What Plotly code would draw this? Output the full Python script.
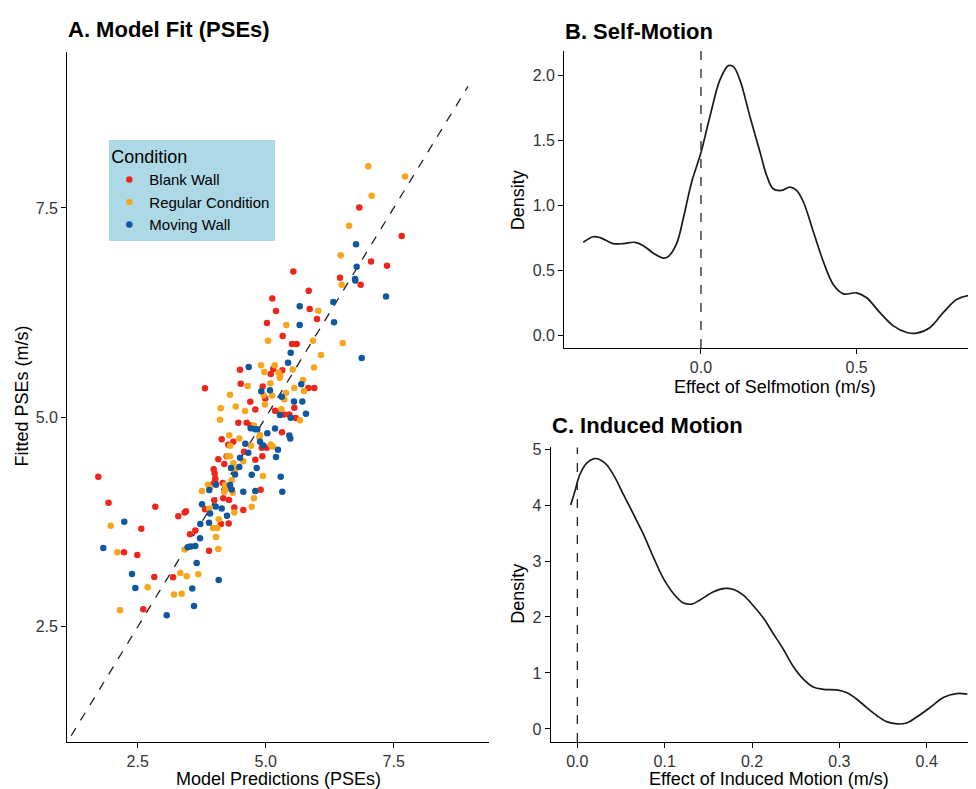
import plotly.graph_objects as go

# ---------------- Panel A data (Model predictions vs fitted PSEs) ----------------
blank_x = [1.73, 1.93, 2.844, 3.293, 3.418, 2.570, 3.521, 3.625, 2.232, 2.492, 3.893, 2.824, 3.189, 2.609,
           4.127, 4.277, 4.465, 4.629, 4.707, 5.318, 4.141, 4.367, 4.269, 4.922, 5.019, 4.576, 4.238, 4.074,
           4.934, 4.797, 4.191, 3.984, 4.004, 4.016, 4.010, 3.977, 4.160, 4.238, 4.902, 4.172, 4.283, 3.996,
           4.387, 4.562, 3.814, 3.443, 5.357, 5.461, 5.586, 5.182, 5.266, 5.559, 4.797, 4.699, 4.992, 5.832,
           5.949, 3.814, 4.941, 4.512, 5.098, 5.324, 5.148, 4.498, 5.514, 5.605, 5.332, 5.025, 6.002, 5.859,
           5.201, 5.129, 5.840, 6.855, 6.451, 5.539, 7.369, 7.057, 7.656, 6.828]
blank_y = [4.29, 3.98, 3.932, 3.821, 3.864, 3.672, 3.604, 3.651, 3.391, 3.356, 3.407, 3.095, 3.092, 2.709,
           3.726, 3.734, 4.937, 4.937, 4.902, 4.823, 4.740, 4.708, 4.672, 4.637, 4.637, 4.590, 4.535, 4.500,
           4.535, 4.495, 4.444, 4.381, 4.329, 4.270, 4.231, 4.207, 4.216, 4.160, 4.136, 4.034, 4.015, 4.010,
           3.924, 3.896, 3.903, 3.880, 5.035, 5.035, 4.992, 5.079, 5.067, 5.115, 5.095, 5.186, 5.225, 5.351,
           5.351, 5.347, 5.370, 5.402, 5.517, 5.564, 5.576, 5.568, 5.875, 5.875, 5.970, 6.127, 6.175, 6.293,
           6.269, 6.420, 6.511, 6.582, 6.668, 6.742, 6.810, 6.861, 7.165, 7.504]

regular_x = [1.973, 2.102, 3.418, 4.074, 3.971, 4.055, 4.029, 4.082, 4.387, 3.332, 3.457, 3.684, 2.695, 3.209,
             3.359, 2.154, 4.107, 4.771, 4.889, 4.875, 4.289, 4.484, 4.303, 5.098, 5.137, 4.713, 4.258, 4.303,
             4.562, 4.367, 4.400, 4.947, 4.336, 3.873, 3.912, 4.205, 4.205, 4.191, 4.355, 3.756, 4.771, 3.898,
             4.727, 5.670, 6.027, 5.402, 5.045, 5.924, 6.504, 6.080, 4.908, 5.176, 4.973, 5.254, 5.285, 5.527,
             5.943, 5.273, 4.648, 5.090, 5.728, 5.559, 5.748, 5.396, 4.303, 4.961, 5.123, 5.363, 4.414, 4.121,
             4.986, 4.596, 5.305, 7.004, 7.721, 7.070, 6.627, 6.465, 6.484]
regular_y = [3.707, 3.391, 3.423, 3.430, 3.679, 3.679, 3.572, 3.785, 3.864, 3.143, 3.104, 3.127, 2.974, 2.886,
             2.894, 2.697, 4.973, 4.902, 4.791, 4.763, 4.787, 4.748, 4.660, 4.677, 4.653, 4.660, 4.539, 4.535,
             4.476, 4.452, 4.377, 4.299, 4.251, 4.196, 4.164, 4.192, 4.133, 4.109, 4.101, 4.121, 4.034, 3.912,
             3.932, 4.965, 6.274, 6.104, 5.914, 5.914, 5.887, 5.745, 5.623, 5.623, 5.541, 5.536, 5.497, 5.571,
             5.595, 5.473, 5.375, 5.406, 5.446, 5.351, 5.316, 5.292, 5.269, 5.264, 5.260, 5.213, 5.130, 5.110,
             5.154, 5.075, 5.098, 7.996, 7.874, 7.646, 7.287, 6.936, 6.582]

moving_x = [2.238, 3.723, 3.717, 3.893, 3.912, 4.244, 1.828, 3.477, 3.535, 3.625, 3.652, 2.389, 4.082, 2.453,
            3.566, 3.600, 3.066, 5.279, 5.488, 5.787, 4.707, 4.791, 4.836, 5.031, 5.182, 5.461, 5.480, 4.602,
            4.889, 4.953, 5.240, 4.660, 4.498, 5.201, 4.484, 4.322, 4.824, 4.400, 4.727, 5.293, 4.029, 4.303,
            4.336, 4.562, 4.797, 5.324, 3.898, 3.756, 4.023, 4.141, 5.664, 6.334, 5.664, 5.488, 5.436, 4.668,
            5.695, 4.914, 5.084, 5.313, 5.553, 5.715, 6.875, 6.764, 6.777, 6.744, 6.750, 7.350, 6.320]
moving_y = [3.754, 3.726, 3.557, 3.743, 3.853, 3.825, 3.442, 3.450, 3.459, 3.466, 3.261, 3.131, 3.060, 2.965,
            2.957, 2.749, 2.638, 5.027, 4.996, 5.044, 4.870, 4.858, 4.858, 4.811, 4.866, 4.784, 4.748, 4.684,
            4.708, 4.665, 4.613, 4.578, 4.519, 4.527, 4.409, 4.397, 4.397, 4.317, 4.314, 4.290, 4.196, 4.192,
            4.140, 4.113, 4.121, 4.113, 4.133, 3.963, 3.935, 3.912, 6.325, 6.136, 6.104, 5.772, 5.651, 5.600,
            5.394, 5.311, 5.323, 5.245, 5.189, 5.189, 5.710, 7.067, 6.798, 6.653, 6.633, 6.443, 6.376]

identity_line = [1.2, 8.95]
a_ticks = [2.5, 5.0, 7.5]

# ---------------- Panel B: density of self-motion effect ----------------
self_x = [-0.378, -0.346, -0.324, -0.282, -0.249, -0.212, -0.185, -0.153, -0.121, -0.105, -0.078, -0.057,
          -0.030, 0.0, 0.029, 0.061, 0.088, 0.104, 0.125, 0.157, 0.190, 0.211, 0.232, 0.259, 0.286, 0.307,
          0.329, 0.361, 0.393, 0.425, 0.457, 0.500, 0.532, 0.575, 0.618, 0.661, 0.693, 0.736, 0.778, 0.821, 0.859]
self_d = [0.716, 0.759, 0.752, 0.706, 0.706, 0.716, 0.690, 0.632, 0.594, 0.606, 0.708, 0.899,
          1.180, 1.409, 1.689, 1.969, 2.079, 2.071, 1.969, 1.689, 1.409, 1.231, 1.129, 1.116, 1.141, 1.116,
          1.027, 0.797, 0.568, 0.390, 0.318, 0.326, 0.288, 0.173, 0.071, 0.020, 0.015, 0.059, 0.173, 0.275, 0.306]
b_xticks = [0.0, 0.5]
b_yticks = [0.0, 0.5, 1.0, 1.5, 2.0]

# ---------------- Panel C: density of induced-motion effect ----------------
ind_x = [-0.0076, -0.0027, 0.003, 0.0107, 0.0195, 0.026, 0.0336, 0.0431, 0.0527, 0.0641, 0.0756, 0.087,
         0.0985, 0.110, 0.121, 0.131, 0.140, 0.156, 0.169, 0.179, 0.190, 0.201, 0.213, 0.224, 0.236, 0.247,
         0.259, 0.270, 0.2816, 0.297, 0.308, 0.320, 0.331, 0.343, 0.354, 0.366, 0.377, 0.388, 0.404, 0.419,
         0.434, 0.4465]
ind_d = [4.00, 4.25, 4.55, 4.75, 4.83, 4.81, 4.72, 4.49, 4.19, 3.84, 3.48, 3.07,
         2.69, 2.42, 2.255, 2.23, 2.30, 2.45, 2.51, 2.49, 2.39, 2.21, 1.98, 1.71, 1.42, 1.12,
         0.885, 0.75, 0.708, 0.697, 0.649, 0.531, 0.384, 0.236, 0.130, 0.0885, 0.106, 0.207, 0.384, 0.561,
         0.632, 0.620]
c_xticks = [0.0, 0.1, 0.2, 0.3, 0.4]
c_yticks = [0, 1, 2, 3, 4, 5]

# ---------------- Figure ----------------
# The page body has an 8px margin, so the figure is placed 8px in from the window's corner.
OFF = 8
W, H = 976 - OFF, 789 - OFF
FONT = "Liberation Sans, Arial, sans-serif"
RED, ORANGE, BLUE = "#F0261C", "#F7A51B", "#0F589F"
LINE = "#1a1a1a"
TICKC = "#333333"


def px(x):
    return (x - OFF) / W


def py(y):
    return 1 - (y - OFF) / H


fig = go.Figure()

fig.add_trace(go.Scatter(x=identity_line, y=identity_line, mode="lines",
                         line=dict(color="#222222", width=1.3, dash="dash"),
                         showlegend=False, hoverinfo="skip", xaxis="x", yaxis="y"))
for name, xs, ys, col in [("Blank Wall", blank_x, blank_y, RED),
                          ("Regular Condition", regular_x, regular_y, ORANGE),
                          ("Moving Wall", moving_x, moving_y, BLUE)]:
    fig.add_trace(go.Scatter(x=xs, y=ys, mode="markers", name=name,
                             marker=dict(color=col, size=6.5, line=dict(width=0)),
                             xaxis="x", yaxis="y"))

fig.add_trace(go.Scatter(x=self_x, y=self_d, mode="lines", line=dict(color=LINE, width=1.7, shape="spline"),
                         showlegend=False, xaxis="x2", yaxis="y2"))
fig.add_trace(go.Scatter(x=ind_x, y=ind_d, mode="lines", line=dict(color=LINE, width=1.7, shape="spline"),
                         showlegend=False, xaxis="x3", yaxis="y3"))

axis_common = dict(showline=True, linecolor="black", linewidth=1.3, showgrid=False, zeroline=False,
                   ticks="outside", ticklen=5, tickwidth=1.1, tickcolor="black",
                   tickfont=dict(family=FONT, size=16, color=TICKC))

fig.update_layout(
    width=W, height=H, margin=dict(l=0, r=0, t=0, b=0),
    paper_bgcolor="white", plot_bgcolor="white",
    font=dict(family=FONT, color="black"),
    xaxis=dict(domain=[px(67.3), px(489.3)], range=[1.125, 9.367], tickvals=a_ticks, tickformat=".1f",
               anchor="y", **axis_common),
    yaxis=dict(domain=[py(741.7), py(45)], range=[1.124, 9.365], tickvals=a_ticks, tickformat=".1f",
               anchor="x", **axis_common),
    xaxis2=dict(domain=[px(564.3), 1.0], range=[-0.439, 0.8834], tickvals=b_xticks, tickformat=".1f",
                anchor="y2", **axis_common),
    yaxis2=dict(domain=[py(344), py(44.3)], range=[-0.0994, 2.192], tickvals=b_yticks, tickformat=".1f",
                anchor="x2", **axis_common),
    xaxis3=dict(domain=[px(550.7), 1.0], range=[-0.0305, 0.4564], tickvals=c_xticks, tickformat=".1f",
                anchor="y3", **axis_common),
    yaxis3=dict(domain=[py(741.7), py(444.3)], range=[-0.236, 5.03], tickvals=c_yticks,
                anchor="x3", **axis_common),
    legend=dict(x=px(109.3), y=py(134), xanchor="left", yanchor="top",
                bgcolor="#ADD8E6", borderwidth=0,
                title=dict(text="Condition", font=dict(family=FONT, size=18, color="black")),
                font=dict(family=FONT, size=15, color="black"),
                itemwidth=30, tracegroupgap=0),
    showlegend=True,
)

fig.add_shape(type="line", xref="x2", yref="y2 domain", x0=0, x1=0, y0=0, y1=1,
              line=dict(color="#222222", width=1.3, dash="dash"))
fig.add_shape(type="line", xref="x3", yref="y3 domain", x0=0, x1=0, y0=0, y1=1,
              line=dict(color="#222222", width=1.3, dash="dash"))

annots = [
    dict(text="<b>A. Model Fit (PSEs)</b>", x=px(66), y=py(23), xanchor="left", yanchor="middle", size=22),
    dict(text="<b>B. Self-Motion</b>", x=px(563), y=py(25), xanchor="left", yanchor="middle", size=22),
    dict(text="<b>C. Induced Motion</b>", x=px(550), y=py(422), xanchor="left", yanchor="middle", size=22),
    dict(text="Model Predictions (PSEs)", x=px(278), y=py(779), xanchor="center", yanchor="middle", size=18),
    dict(text="Effect of Selfmotion (m/s)", x=px(775), y=py(383), xanchor="center", yanchor="middle", size=18),
    dict(text="Effect of Induced Motion (m/s)", x=px(769), y=py(779), xanchor="center", yanchor="middle", size=18),
]
for a in annots:
    fig.add_annotation(text=a["text"], x=a["x"], y=a["y"], xref="paper", yref="paper",
                       xanchor=a["xanchor"], yanchor=a["yanchor"], showarrow=False,
                       font=dict(family=FONT, size=a["size"], color="black"))

for text, x, y in [("Fitted PSEs (m/s)", 22, 393), ("Density", 518, 195), ("Density", 518, 592)]:
    fig.add_annotation(text=text, x=px(x), y=py(y), xref="paper", yref="paper", textangle=-90,
                       xanchor="center", yanchor="middle", showarrow=False,
                       font=dict(family=FONT, size=18, color="black"))

fig.write_html("out.html")
